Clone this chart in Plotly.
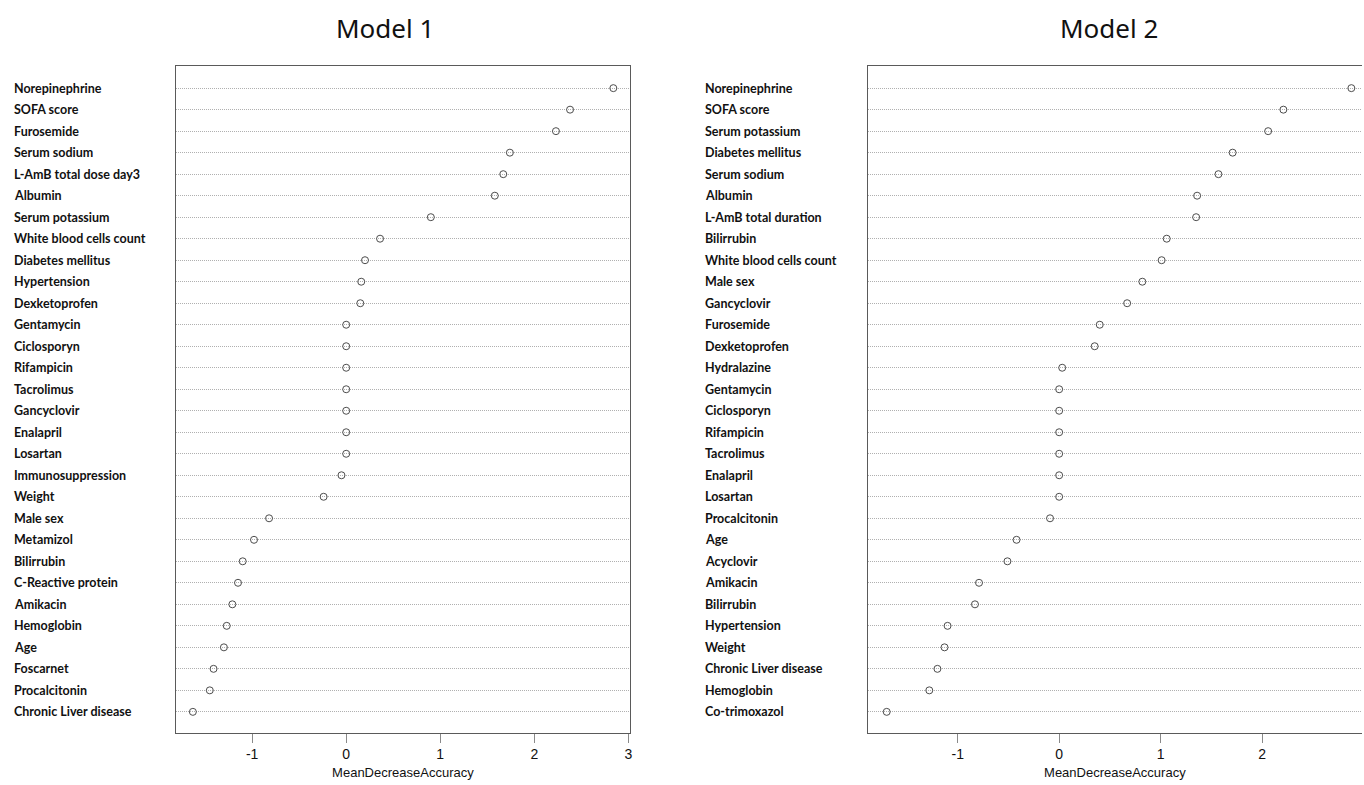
import plotly.graph_objects as go

# ---- Model 1 (top to bottom) ----
m1_vars = ["Norepinephrine", "SOFA score", "Furosemide", "Serum sodium", "L-AmB total dose day3",
           "Albumin", "Serum potassium", "White blood cells count", "Diabetes mellitus", "Hypertension",
           "Dexketoprofen", "Gentamycin", "Ciclosporyn", "Rifampicin", "Tacrolimus", "Gancyclovir",
           "Enalapril", "Losartan", "Immunosuppression", "Weight", "Male sex", "Metamizol", "Bilirrubin",
           "C-Reactive protein", "Amikacin", "Hemoglobin", "Age", "Foscarnet", "Procalcitonin",
           "Chronic Liver disease"]
m1_vals = [2.84, 2.38, 2.23, 1.74, 1.67, 1.58, 0.90, 0.36, 0.20, 0.16,
           0.15, 0.0, 0.0, 0.0, 0.0, 0.0, 0.0, 0.0, -0.05, -0.24,
           -0.82, -0.98, -1.10, -1.15, -1.21, -1.27, -1.30, -1.41, -1.45, -1.63]

# ---- Model 2 (top to bottom) ----
m2_vars = ["Norepinephrine", "SOFA score", "Serum potassium", "Diabetes mellitus", "Serum sodium",
           "Albumin", "L-AmB total duration", "Bilirrubin", "White blood cells count", "Male sex",
           "Gancyclovir", "Furosemide", "Dexketoprofen", "Hydralazine", "Gentamycin", "Ciclosporyn",
           "Rifampicin", "Tacrolimus", "Enalapril", "Losartan", "Procalcitonin", "Age", "Acyclovir",
           "Amikacin", "Bilirrubin", "Hypertension", "Weight", "Chronic Liver disease", "Hemoglobin",
           "Co-trimoxazol"]
m2_vals = [2.88, 2.21, 2.06, 1.71, 1.57, 1.36, 1.35, 1.06, 1.01, 0.82,
           0.67, 0.40, 0.35, 0.03, 0.0, 0.0, 0.0, 0.0, 0.0, 0.0,
           -0.09, -0.42, -0.51, -0.79, -0.83, -1.10, -1.13, -1.20, -1.28, -1.70]

x_ticks = [-1, 0, 1, 2, 3]
x_ticklabels = ["-1", "0", "1", "2", "3"]
x_title = "MeanDecreaseAccuracy"
titles = ["Model 1", "Model 2"]

W, H = 1364, 785
n1, n2 = len(m1_vars), len(m2_vars)
rows1 = list(range(n1, 0, -1))
rows2 = list(range(n2, 0, -1))

fig = go.Figure()
marker = dict(symbol="circle-open", size=7, color="#4d4d4d", line=dict(width=1, color="#4d4d4d"))
fig.add_trace(go.Scatter(x=m1_vals, y=rows1, mode="markers", marker=marker,
                         xaxis="x", yaxis="y", showlegend=False, text=m1_vars))
fig.add_trace(go.Scatter(x=m2_vals, y=rows2, mode="markers", marker=marker,
                         xaxis="x2", yaxis="y2", showlegend=False, text=m2_vars))

ydom = [(H - 732.5) / H, (H - 66) / H]
xdom1 = [176 / W, 631 / W]
xdom2 = [869 / W, 1.0]

axcommon = dict(showline=True, linecolor="#5a5a5a", linewidth=1, mirror=True, zeroline=False)
xcommon = dict(axcommon, tickvals=x_ticks, ticktext=x_ticklabels, ticks="outside", ticklen=9,
               tickcolor="#8a8a8a", showgrid=False,
               tickfont=dict(family="Liberation Sans, Arial", size=14, color="#111"),
               title=dict(text=x_title, font=dict(family="Liberation Sans, Arial", size=13, color="#111"),
                          standoff=6))
ycommon = dict(axcommon, showticklabels=False, ticks="", showgrid=True, gridcolor="#b0b0b0",
               griddash="1px,1px", gridwidth=1)

fig.update_layout(
    width=W, height=H, margin=dict(l=0, r=0, t=0, b=0),
    paper_bgcolor="white", plot_bgcolor="white",
    xaxis=dict(xcommon, domain=xdom1, range=[-1.812, 3.018], anchor="y"),
    yaxis=dict(ycommon, domain=ydom, range=[0.04, 31.03], tickvals=rows1, anchor="x"),
    xaxis2=dict(xcommon, domain=xdom2, range=[-1.887, 2.985], anchor="y2"),
    yaxis2=dict(ycommon, domain=ydom, range=[0.04, 31.03], tickvals=rows2, anchor="x2",
                mirror=False),
)

lab_font = dict(family="Lato", size=12.5, color="#111")
anns = []
for name, r in zip(m1_vars, rows1):
    anns.append(dict(text="<b>" + name + "</b>", x=12 / W, xref="paper", y=r, yref="y",
                     xanchor="left", yanchor="middle", showarrow=False, font=lab_font))
for name, r in zip(m2_vars, rows2):
    anns.append(dict(text="<b>" + name + "</b>", x=704 / W, xref="paper", y=r, yref="y2",
                     xanchor="left", yanchor="middle", showarrow=False, font=lab_font))
title_font = dict(family="Noto Sans", size=26, color="#111")
for t, cx in zip(titles, [386, 1111]):
    anns.append(dict(text=t, x=cx / W, xref="paper", y=(H - 28) / H, yref="paper",
                     xanchor="center", yanchor="middle", showarrow=False, font=title_font))
fig.update_layout(annotations=anns)

fig.write_html("out.html", config={"displayModeBar": False},
               post_script="document.body.style.margin='0';document.body.style.overflow='hidden';")
